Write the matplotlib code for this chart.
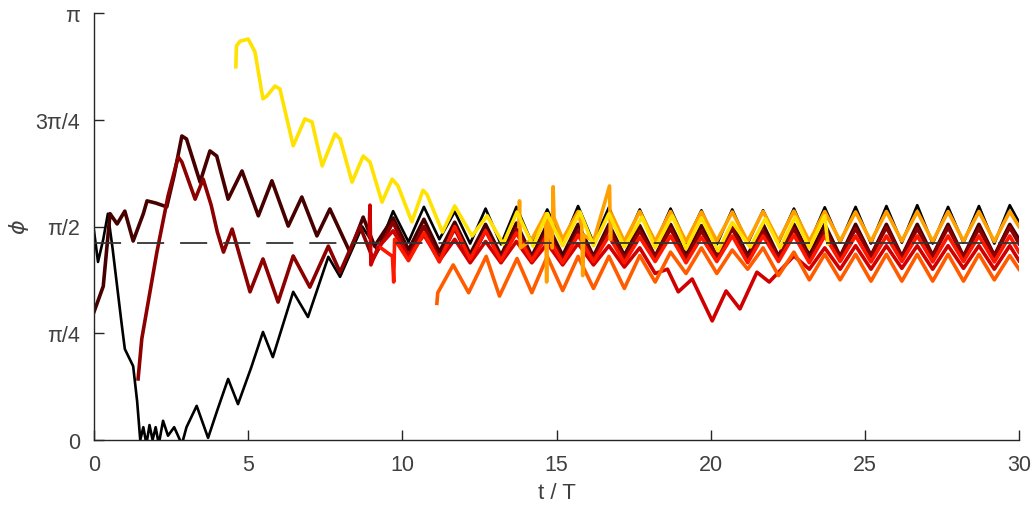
import numpy as np
import matplotlib
matplotlib.use("Agg")
import matplotlib.pyplot as plt

# ---------------- data (phi in units of pi, t in periods) ----------------
black_t = [0, 0.13, 0.3, 0.45, 0.6, 0.9, 1.0, 1.27, 1.4, 1.5, 1.6, 1.7, 1.8, 1.9, 2.0, 2.1,
           2.24, 2.4, 2.6, 2.85, 3.0, 3.33, 3.7, 4.0, 4.35, 4.67, 5.1, 5.48, 5.8, 6.46, 6.94,
           7.6, 7.98, 8.7, 9.2, 9.7, 10.2, 10.7, 11.2, 11.7, 12.2, 12.7, 13.2, 13.7, 14.2, 14.7,
           15.2, 15.7, 16.2, 16.7, 17.2, 17.7, 18.2, 18.7, 19.2, 19.7, 20.2, 20.7, 21.2, 21.7,
           22.2, 22.7, 23.2, 23.7, 24.2, 24.7, 25.2, 25.7, 26.2, 26.7, 27.2, 27.7, 28.2, 28.7,
           29.2, 29.7, 30.0]
black_phi = [0.49, 0.417, 0.47, 0.53, 0.45, 0.27, 0.213, 0.173, 0.09, 0.0, 0.03, -0.01, 0.035,
             0.0, 0.03, -0.01, 0.045, 0.01, 0.03, -0.01, 0.03, 0.08, 0.005, 0.07, 0.143, 0.084,
             0.17, 0.253, 0.194, 0.347, 0.288, 0.429, 0.382, 0.50, 0.443, 0.536, 0.464, 0.546,
             0.47, 0.535, 0.46, 0.542, 0.458, 0.546, 0.462, 0.54, 0.46, 0.548, 0.462, 0.545,
             0.458, 0.54, 0.46, 0.542, 0.462, 0.538, 0.458, 0.54, 0.46, 0.538, 0.462, 0.542,
             0.46, 0.545, 0.462, 0.546, 0.46, 0.548, 0.462, 0.55, 0.46, 0.546, 0.462, 0.548,
             0.46, 0.55, 0.51]

brown_t = [0, 0.3, 0.52, 0.75, 1.0, 1.27, 1.6, 1.72, 2.0, 2.36, 2.6, 2.85, 3.0, 3.44, 3.76,
           3.98, 4.35, 4.8, 5.33, 5.77, 6.3, 6.74, 7.23, 7.65, 8.3, 8.73, 9.1, 9.7, 10.2, 10.7,
           11.2, 11.7, 12.2, 12.7, 13.2, 13.7, 14.2, 14.7, 15.2, 15.7, 16.2, 16.7, 17.2, 17.7,
           18.2, 18.7, 19.2, 19.7, 20.2, 20.7, 21.2, 21.7, 22.2, 22.7, 23.2, 23.7, 24.2, 24.7,
           25.2, 25.7, 26.2, 26.7, 27.2, 27.7, 28.2, 28.7, 29.2, 29.7, 30.0]
brown_phi = [0.30, 0.36, 0.53, 0.506, 0.536, 0.466, 0.53, 0.56, 0.555, 0.546, 0.62, 0.712,
             0.705, 0.604, 0.677, 0.665, 0.564, 0.63, 0.525, 0.607, 0.501, 0.569, 0.478, 0.541,
             0.44, 0.522, 0.454, 0.52, 0.445, 0.517, 0.44, 0.51, 0.435, 0.505, 0.432, 0.508,
             0.43, 0.505, 0.432, 0.505, 0.43, 0.505, 0.432, 0.502, 0.43, 0.505, 0.432, 0.502,
             0.43, 0.505, 0.432, 0.505, 0.43, 0.505, 0.432, 0.505, 0.43, 0.505, 0.432, 0.505,
             0.43, 0.505, 0.432, 0.505, 0.43, 0.505, 0.432, 0.505, 0.47]

maroon_t = [1.43, 1.55, 2.04, 2.4, 2.73, 2.85, 3.28, 3.54, 3.8, 4.0, 4.2, 4.48, 5.06, 5.48,
            5.97, 6.46, 7.0, 7.6, 7.98, 8.63, 9.05, 9.7, 10.2, 10.7, 11.2, 11.7, 12.2, 12.7,
            13.2, 13.7, 14.2, 14.7, 15.2, 15.7, 16.2, 16.7, 17.2, 17.7, 18.2, 18.7, 19.2, 19.7,
            20.2, 20.7, 21.2, 21.7, 22.2, 22.7, 23.2, 23.7, 24.2, 24.7, 25.2, 25.7, 26.2, 26.7,
            27.2, 27.7, 28.2, 28.7, 29.2, 29.7, 30.0]
maroon_phi = [0.143, 0.237, 0.44, 0.571, 0.663, 0.651, 0.564, 0.611, 0.55, 0.487, 0.44, 0.494,
              0.347, 0.424, 0.323, 0.431, 0.358, 0.454, 0.393, 0.50, 0.424, 0.51, 0.43, 0.50,
              0.425, 0.495, 0.42, 0.49, 0.425, 0.495, 0.425, 0.49, 0.42, 0.49, 0.425, 0.495,
              0.425, 0.49, 0.428, 0.495, 0.425, 0.49, 0.428, 0.495, 0.425, 0.49, 0.428, 0.495,
              0.425, 0.49, 0.428, 0.495, 0.43, 0.498, 0.428, 0.495, 0.43, 0.498, 0.428, 0.495,
              0.43, 0.498, 0.46]

crimson_t = [8.92, 8.95, 8.98, 9.2, 9.7, 10.2, 10.7, 11.2, 11.7, 12.2, 12.7, 13.2, 13.7, 14.2,
             14.7, 15.2, 15.7, 16.2, 16.7, 17.2, 17.7, 18.2, 18.6, 18.95, 19.4, 20.05, 20.5,
             20.95, 21.5, 21.9, 22.7, 23.2, 23.7, 24.2, 24.7, 25.2, 25.7, 26.2, 26.7, 27.2,
             27.7, 28.2, 28.7, 29.2, 29.7, 30.0]
crimson_phi = [0.48, 0.55, 0.41, 0.45, 0.49, 0.43, 0.48, 0.42, 0.47, 0.415, 0.465, 0.415, 0.465,
               0.415, 0.46, 0.41, 0.46, 0.41, 0.455, 0.405, 0.45, 0.39, 0.40, 0.347, 0.377,
               0.279, 0.349, 0.307, 0.393, 0.370, 0.431, 0.40, 0.45, 0.40, 0.455, 0.40, 0.455,
               0.402, 0.455, 0.40, 0.455, 0.402, 0.455, 0.40, 0.455, 0.42]

red_t = [9.3, 9.68, 9.72, 9.75, 10.2, 10.7, 11.2, 11.7, 12.2, 12.7, 13.2, 13.7, 14.2, 14.7,
         15.2, 15.7, 16.2, 16.7, 17.2, 17.7, 18.2, 18.7, 19.2, 19.7, 20.2, 20.7, 21.2, 21.7,
         22.2, 22.7, 23.2, 23.7, 24.2, 24.7, 25.2, 25.7, 26.2, 26.7, 27.2, 27.7, 28.2, 28.7,
         29.2, 29.7, 30.0]
red_phi = [0.45, 0.43, 0.37, 0.47, 0.42, 0.485, 0.417, 0.50, 0.424, 0.49, 0.42, 0.485, 0.42,
           0.48, 0.415, 0.48, 0.418, 0.478, 0.415, 0.475, 0.418, 0.478, 0.415, 0.475, 0.418,
           0.478, 0.415, 0.478, 0.418, 0.48, 0.415, 0.478, 0.418, 0.478, 0.417, 0.478, 0.418,
           0.478, 0.417, 0.478, 0.418, 0.478, 0.417, 0.478, 0.44]

orangered_t = [11.12, 11.15, 11.65, 12.15, 12.72, 13.15, 13.72, 14.2, 14.7, 15.2, 15.7, 16.2,
               16.7, 17.2, 17.7, 18.2, 18.7, 19.2, 19.7, 20.2, 20.7, 21.2, 21.7, 22.2, 22.7,
               23.2, 23.7, 24.2, 24.7, 25.2, 25.7, 26.2, 26.7, 27.2, 27.7, 28.2, 28.7, 29.2,
               29.7, 30.0]
orangered_phi = [0.32, 0.345, 0.41, 0.345, 0.43, 0.337, 0.425, 0.345, 0.43, 0.35, 0.43, 0.355,
                 0.43, 0.355, 0.432, 0.37, 0.44, 0.39, 0.45, 0.39, 0.445, 0.40, 0.45, 0.385,
                 0.44, 0.375, 0.435, 0.375, 0.435, 0.372, 0.435, 0.372, 0.435, 0.372, 0.435,
                 0.372, 0.435, 0.375, 0.432, 0.40]

orange_t = [13.78, 13.8, 13.83, 14.2, 14.65, 14.68, 14.71, 14.86, 14.89, 14.92, 15.2, 15.7,
            15.82, 15.85, 15.88, 16.2, 16.72, 16.75, 16.78, 17.2, 17.7, 18.2, 18.7, 19.2, 19.7,
            20.2, 20.7, 21.2, 21.7, 22.2, 22.7, 23.2, 23.7, 24.2, 24.7, 25.2, 25.7, 26.2, 26.7,
            27.2, 27.7, 28.2, 28.7, 29.2, 29.7, 30.0]
orange_phi = [0.50, 0.56, 0.45, 0.47, 0.53, 0.37, 0.53, 0.45, 0.593, 0.52, 0.47, 0.535, 0.50,
              0.385, 0.48, 0.465, 0.595, 0.47, 0.53, 0.465, 0.535, 0.465, 0.535, 0.465, 0.534,
              0.466, 0.534, 0.465, 0.535, 0.466, 0.536, 0.465, 0.535, 0.466, 0.534, 0.465,
              0.535, 0.466, 0.535, 0.465, 0.535, 0.466, 0.535, 0.465, 0.535, 0.50]

yellow_t = [4.6, 4.62, 4.74, 5.0, 5.22, 5.48, 5.6, 5.87, 6.03, 6.46, 6.84, 7.07, 7.4, 7.82,
            7.98, 8.37, 8.73, 8.95, 9.34, 9.67, 9.86, 10.31, 10.67, 10.8, 11.3, 11.7, 12.26,
            12.75, 13.27, 13.72, 14.24, 14.7, 15.2, 15.76, 16.2, 16.7, 17.2, 17.77, 18.2,
            18.75, 19.2, 19.7, 20.24, 20.7, 21.28, 21.77, 22.25, 22.74, 23.2, 23.7, 23.8]
yellow_phi = [0.874, 0.923, 0.934, 0.939, 0.909, 0.799, 0.805, 0.829, 0.822, 0.689, 0.752,
              0.745, 0.642, 0.717, 0.705, 0.604, 0.665, 0.651, 0.557, 0.611, 0.595, 0.511,
              0.585, 0.575, 0.487, 0.548, 0.478, 0.525, 0.459, 0.534, 0.454, 0.53, 0.455,
              0.534, 0.455, 0.53, 0.452, 0.522, 0.45, 0.525, 0.448, 0.52, 0.443, 0.51, 0.452,
              0.518, 0.45, 0.522, 0.45, 0.525, 0.46]

reference_phi = 0.461  # dashed line level (units of pi)

series = [
    (black_t, black_phi, "#000000", 1.9),
    (brown_t, brown_phi, "#470000", 2.6),
    (maroon_t, maroon_phi, "#8c0000", 2.6),
    (crimson_t, crimson_phi, "#d10000", 2.6),
    (red_t, red_phi, "#ff1800", 2.6),
    (orangered_t, orangered_phi, "#ff5c00", 2.6),
    (orange_t, orange_phi, "#ffa000", 2.6),
    (yellow_t, yellow_phi, "#ffe200", 2.6),
]

xticks = [0, 5, 10, 15, 20, 25, 30]
yticks_pi = [0, 0.25, 0.5, 0.75, 1.0]
ytick_labels = ["0", "π/4", "π/2", "3π/4", "π"]

# ---------------- plot ----------------
plt.rcParams["font.family"] = ["Liberation Sans", "DejaVu Sans"]
plt.rcParams["lines.scale_dashes"] = False

fig = plt.figure(figsize=(10.33, 5.06), dpi=100)
ax = fig.add_axes([94 / 1033, 1 - 441 / 506, (1019 - 94) / 1033, (441 - 14) / 506])

for t, phi, color, lw in series:
    ax.plot(t, np.array(phi) * np.pi, color=color, lw=lw, solid_joinstyle="round")

ax.plot([0, 30], [reference_phi * np.pi] * 2, color="#333333", lw=1.3,
        dashes=(19.5, 11.5), zorder=5)

ax.set_xlim(0, 30)
ax.set_ylim(0, np.pi)
ax.set_xticks(xticks)
ax.set_yticks(np.array(yticks_pi) * np.pi)
ax.set_yticklabels(ytick_labels)

for s in ["top", "right"]:
    ax.spines[s].set_visible(False)
for s in ["left", "bottom"]:
    ax.spines[s].set_color("#262626")
    ax.spines[s].set_linewidth(1.0)

ax.tick_params(direction="in", length=7, width=1.0, color="#262626",
               labelcolor="#404040", labelsize=15.5, pad=10)

ax.set_xlabel("t / T", fontsize=16, color="#404040", labelpad=5)
ax.set_ylabel(r"$\phi$", fontsize=16, color="#404040", labelpad=3)

fig.savefig("out.png", dpi=100)
